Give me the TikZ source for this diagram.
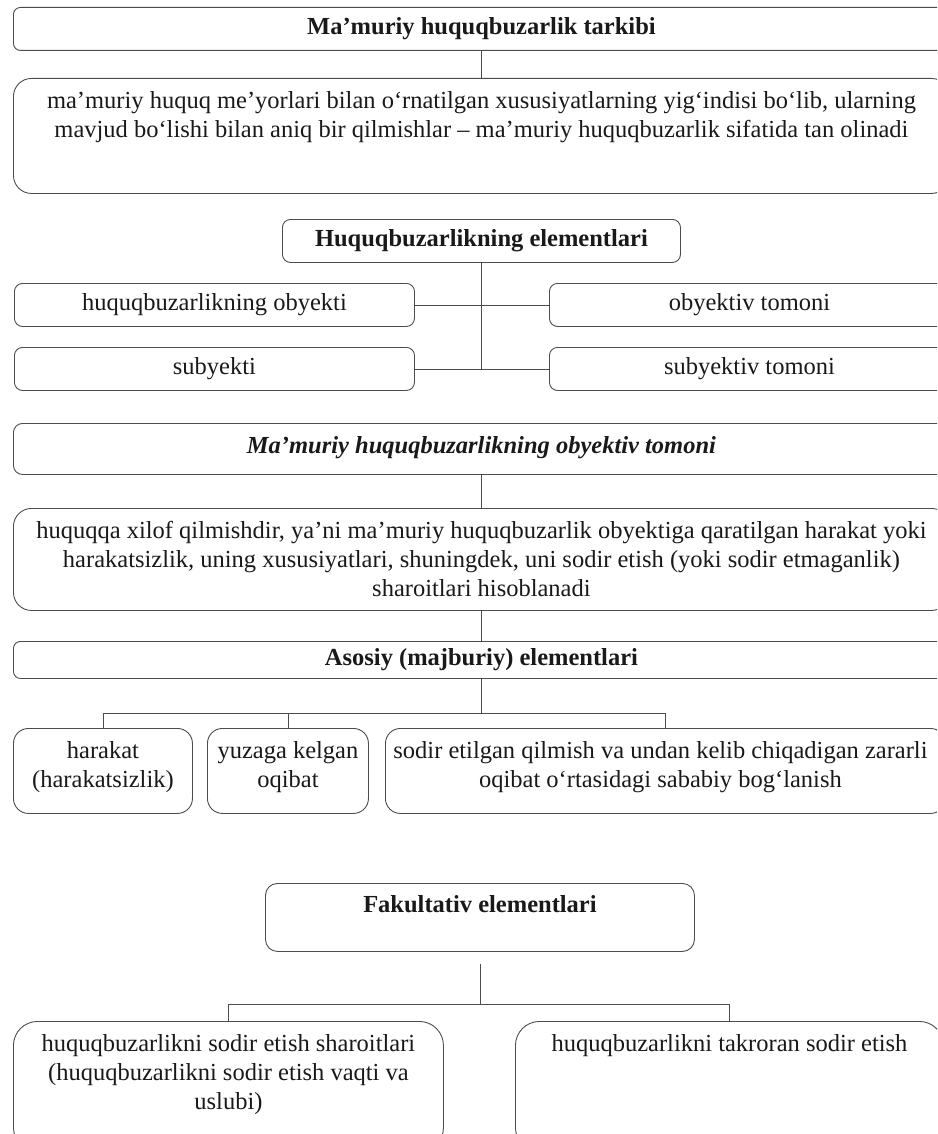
\documentclass[tikz,border=0pt]{standalone}
\usepackage{fontspec}
\setmainfont{Liberation Serif}
\usetikzlibrary{positioning}

\begin{document}
\begin{tikzpicture}[x=1pt, y=-1pt, font=\fontsize{24.5}{29}\selectfont, text=black!90,
  box/.style={draw=black!70, line width=0.9pt, rounded corners=#1, anchor=north west, inner sep=0pt},
  box/.default=6pt,
  ttl/.style={font=\fontsize{24.5}{29}\selectfont\bfseries},
  txt/.style={align=center, inner sep=0pt},
  link/.style={draw=black!70, line width=0.8pt}]
  \useasboundingbox (0,0) rectangle (937,1134);
  \clip (0,0) rectangle (937,1134);
  % tarkib
  \node[box=7pt, minimum width=936pt, minimum height=43pt, ttl] (tarkib) at (13,7) {Ma’muriy huquqbuzarlik tarkibi};
  \node[box=18pt, minimum width=936pt, minimum height=115pt] (tarif) at (13,78) {};
  \node[txt, below=13pt of tarif.north] (tariftxt) {ma’muriy huquq me’yorlari bilan o‘rnatilgan xususiyatlarning yig‘indisi bo‘lib, ularning\\
    mavjud bo‘lishi bilan aniq bir qilmishlar – ma’muriy huquqbuzarlik sifatida tan olinadi};
  \draw[link] (tarkib) -- (tarif);
  % elementlar
  \node[box=8pt, minimum width=398pt, minimum height=43pt, ttl] (elem) at (282,219) {Huquqbuzarlikning elementlari};
  \node[box=8pt, minimum width=400pt, minimum height=43pt] (obyekt) at (14,283) {huquqbuzarlikning obyekti};
  \node[box=8pt, minimum width=400pt, minimum height=43pt] (obtomon) at (549,283) {obyektiv tomoni};
  \node[box=8pt, minimum width=400pt, minimum height=43pt] (subyekt) at (14,347) {subyekti};
  \node[box=8pt, minimum width=400pt, minimum height=43pt] (subtomon) at (549,347) {subyektiv tomoni};
  \draw[link] (elem.south) -- (elem.south |- subyekt.east);
  \draw[link] (obyekt) -- (obtomon);
  \draw[link] (subyekt) -- (subtomon);
  % obyektiv tomon
  \node[box=9pt, minimum width=936pt, minimum height=51pt] (obtitle) at (13,423) {};
  \node[txt, below=13pt of obtitle.north, font=\fontsize{24.5}{29}\selectfont\bfseries\itshape] (obtitletxt) {Ma’muriy huquqbuzarlikning obyektiv tomoni};
  \node[box=18pt, minimum width=936pt, minimum height=102pt] (obdef) at (13,508) {};
  \node[txt, below=13pt of obdef.north] (obdeftxt) {huquqqa xilof qilmishdir, ya’ni ma’muriy huquqbuzarlik obyektiga qaratilgan harakat yoki\\
    harakatsizlik, uning xususiyatlari, shuningdek, uni sodir etish (yoki sodir etmaganlik)\\
    sharoitlari hisoblanadi};
  \draw[link] (obtitle) -- (obdef);
  % asosiy
  \node[box=7pt, minimum width=936pt, minimum height=37pt, ttl] (asosiy) at (13,641) {Asosiy (majburiy) elementlari};
  \draw[link] (obdef) -- (asosiy);
  \node[box=15pt, minimum width=179pt, minimum height=85pt] (harakat) at (13,728) {};
  \node[txt, below=13pt of harakat.north] (harakattxt) {harakat\\(harakatsizlik)};
  \node[box=15pt, minimum width=161pt, minimum height=85pt] (oqibat) at (207,728) {};
  \node[txt, below=13pt of oqibat.north] (oqibattxt) {yuzaga kelgan\\oqibat};
  \node[box=15pt, minimum width=560pt, minimum height=85pt] (sabab) at (385,728) {};
  \node[txt, below=13pt of sabab.north, xshift=-5pt] (sababtxt) {sodir etilgan qilmish va undan kelib chiqadigan zararli\\
    oqibat o‘rtasidagi sababiy bog‘lanish};
  \draw[link] (asosiy.south) -- ++(0,34) coordinate (bus1);
  \draw[link] (harakat.north) |- (bus1) -| (sabab.north);
  \draw[link] (oqibat.north) -- (oqibat.north |- bus1);
  % fakultativ
  \node[box=12pt, minimum width=429pt, minimum height=68pt] (fakult) at (265,883) {};
  \node[txt, below=12pt of fakult.north, ttl] (fakulttxt) {Fakultativ elementlari};
  \node[box=24pt, minimum width=430pt, minimum height=130pt] (sharoit) at (13,1021) {};
  \node[txt, below=13pt of sharoit.north] (sharoittxt) {huquqbuzarlikni sodir etish sharoitlari\\
    (huquqbuzarlikni sodir etish vaqti va\\ uslubi)};
  \node[box=24pt, minimum width=428pt, minimum height=130pt] (takror) at (515,1021) {};
  \node[txt, below=13pt of takror.north] (takrortxt) {huquqbuzarlikni takroran sodir etish};
  \draw[link] ([yshift=-12pt]fakult.south) -- ++(0,40) coordinate (bus2);
  \draw[link] (sharoit.north) |- (bus2) -| (takror.north);
\end{tikzpicture}
\end{document}
